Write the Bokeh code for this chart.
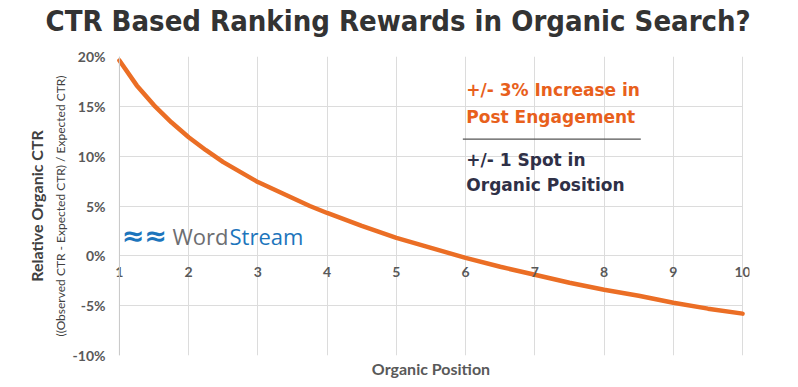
from bokeh.plotting import figure
from bokeh.models import Range1d, Label, Title, PrintfTickFormatter, FixedTicker, Span
from bokeh.embed import file_html
from bokeh.resources import INLINE

# ---- data ----
positions = [1, 1.25, 1.5, 1.75, 2, 2.25, 2.5, 2.75, 3, 3.25, 3.5, 3.75, 4, 4.5, 5, 5.5, 6, 6.5, 7, 7.5, 8, 8.5, 9, 9.5, 10]
relative_ctr = [19.6, 17.1, 15.1, 13.4, 11.9, 10.6, 9.4, 8.4, 7.4, 6.6, 5.8, 5.0, 4.3, 3.0, 1.8, 0.8, -0.2, -1.1, -1.9, -2.7, -3.4, -4.0, -4.7, -5.3, -5.8]
x_ticks = [1, 2, 3, 4, 5, 6, 7, 8, 9, 10]
y_ticks = [-10, -5, 0, 5, 10, 15, 20]

title_text = "CTR Based Ranking Rewards in Organic Search?"
y_title = "Relative Organic CTR"
y_subtitle = "((Observed CTR - Expected CTR) / Expected CTR)"
x_title = "Organic Position"
note1 = ["+/- 3% Increase in", "Post Engagement"]
note2 = ["+/- 1 Spot in", "Organic Position"]

ORANGE = "#EB6E25"
NOTE_ORANGE = "#E8601C"
NAVY = "#2F3047"
GRID = "#DCDCDC"
LABEL = "#595959"

PAD = 0.1  # small extra room so the edge tick labels are not clipped
p = figure(width=798, height=387, output_backend="svg", toolbar_location=None, title=None,
           x_range=Range1d(x_ticks[0] - PAD, x_ticks[-1] + PAD), y_range=Range1d(-10, 20),
           min_border_left=112, min_border_right=49, min_border_top=56, min_border_bottom=32)
p.outline_line_color = None
p.background_fill_color = "white"
p.border_fill_color = "white"

# title (a thin blank spacer title keeps it clear of the plot area)
p.add_layout(Title(text=" ", text_font_size="1px", standoff=14), "above")
p.add_layout(Title(text=title_text, align="left", vertical_align="top", offset=-67,
                   text_font="DejaVu Sans Condensed", text_font_style="bold",
                   text_font_size="29px", text_color="#333333", standoff=0), "above")

# x axis crossing at 0%
xax = p.xaxis[0]
xax.fixed_location = 0
xax.ticker = FixedTicker(ticks=x_ticks)
xax.major_tick_out = 0
xax.major_tick_in = 0
xax.minor_tick_out = 0
xax.minor_tick_in = 0
xax.axis_line_color = None
xax.major_label_standoff = 11
xax.major_label_text_font = "Lato"
xax.major_label_text_font_style = "bold"
xax.major_label_text_font_size = "14px"
xax.major_label_text_color = LABEL

yax = p.yaxis[0]
yax.ticker = FixedTicker(ticks=y_ticks)
yax.formatter = PrintfTickFormatter(format="%d%%")
yax.major_tick_out = 0
yax.major_tick_in = 0
yax.minor_tick_out = 0
yax.minor_tick_in = 0
yax.axis_line_color = None
yax.major_label_standoff = 7
yax.major_label_text_font = "Lato"
yax.major_label_text_font_style = "bold"
yax.major_label_text_font_size = "14px"
yax.major_label_text_color = LABEL

p.xgrid.ticker = FixedTicker(ticks=x_ticks)
p.ygrid.ticker = FixedTicker(ticks=y_ticks)
p.xgrid.grid_line_color = GRID
p.ygrid.grid_line_color = GRID
p.ygrid.cross_bounds = (x_ticks[0], x_ticks[-1])
p.add_layout(Span(location=x_ticks[0], dimension="height", line_color="#C8C8C8", line_width=1))

# axis titles
p.add_layout(Title(text=y_subtitle, align="center", text_font="Lato", text_font_style="normal",
                   text_font_size="12px", text_color="#404040", standoff=3), "left")
p.add_layout(Title(text=y_title, align="center", text_font="Lato", text_font_style="bold",
                   text_font_size="16px", text_color="#404040", standoff=7), "left")
p.add_layout(Title(text=x_title, align="center", text_font="Lato", text_font_style="bold",
                   text_font_size="16px", text_color=LABEL, standoff=2), "below")

# curve
p.line(positions, relative_ctr, line_color=ORANGE, line_width=4.5, line_cap="round", line_join="round")

# annotation block
for txt, yy in zip(note1, [16.6, 13.9]):
    p.add_layout(Label(x=6.01, y=yy, text=txt, text_align="left", text_baseline="middle",
                       text_font="DejaVu Sans", text_font_style="bold", text_font_size="17px",
                       text_color=NOTE_ORANGE))
for txt, yy in zip(note2, [9.6, 7.1]):
    p.add_layout(Label(x=6.01, y=yy, text=txt, text_align="left", text_baseline="middle",
                       text_font="DejaVu Sans", text_font_style="bold", text_font_size="17px",
                       text_color=NAVY))
p.segment(x0=[5.96], y0=[11.7], x1=[8.53], y1=[11.7], line_color="#555555", line_width=1.2)

# WordStream logo
p.add_layout(Label(x=1.36, y=2.0, text="≈≈", text_align="center", text_baseline="middle",
                   text_font="DejaVu Sans", text_font_style="bold", text_font_size="27px",
                   text_color="#1C75BC"))
p.add_layout(Label(x=1.766, y=2.0, text="Word", text_align="left", text_baseline="middle",
                   text_font="Open Sans", text_font_size="22px", text_color="#6D6E71"))
p.add_layout(Label(x=2.59, y=2.0, text="Stream", text_align="left", text_baseline="middle",
                   text_font="Open Sans", text_font_size="22px", text_color="#1C75BC"))

open("out.html", "w").write(file_html(p, INLINE))
